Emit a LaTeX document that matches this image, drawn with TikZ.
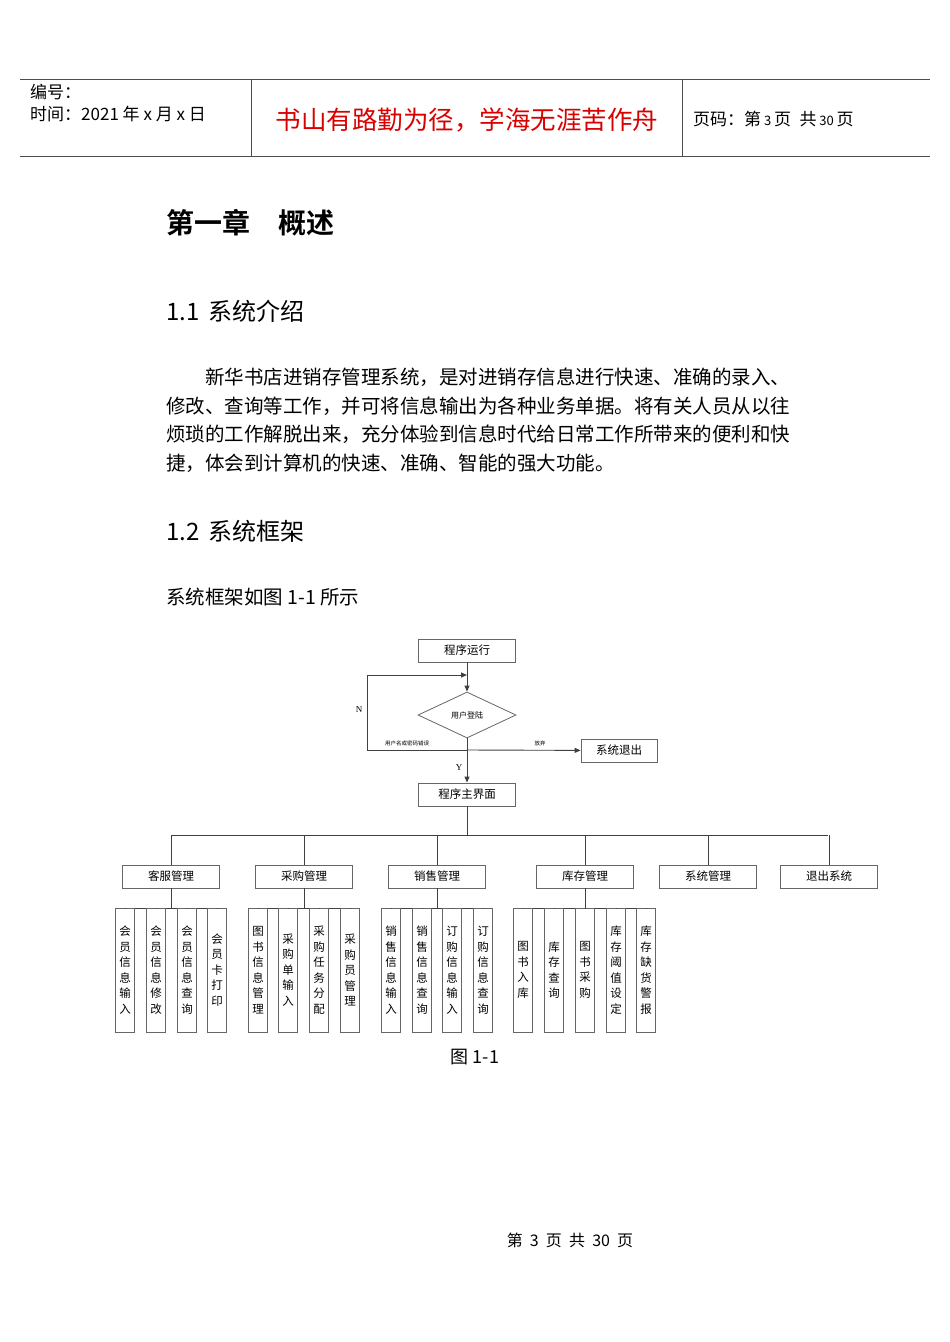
\documentclass[tikz,border=0pt]{standalone}
\usepackage{fontspec}
\setmainfont{Liberation Serif}
\newfontfamily\cjk{Noto Sans CJK SC}
\newfontfamily\cjkb{Noto Sans CJK SC}[BoldFont={Noto Sans CJK SC Bold}]
\usetikzlibrary{shapes.geometric,arrows.meta}
\begin{document}
\begin{tikzpicture}[x=1pt,y=-1pt,
 ln/.style={draw=black!75,line width=0.9pt},
 bx/.style={draw=black!60,line width=0.8pt,minimum width=97pt,minimum height=23pt,inner sep=0pt,font=\cjk\fontsize{11.5}{12}\selectfont},
 vb/.style={draw=black!60,line width=0.8pt,minimum width=19pt,minimum height=124pt,inner sep=0pt,align=center,font=\cjk\fontsize{11.5}{15.5}\selectfont},
 arr/.style={ln,-{Triangle[length=6pt,width=5pt]}},
 txt/.style={anchor=west,inner sep=0pt,font=\cjk\fontsize{19.5}{20}\selectfont}]
\useasboundingbox[fill=white] (0,0) rectangle (950,1342);
% header
\draw[black!70,line width=0.8pt] (20,79)--(930,79) (20,156)--(930,156) (251,79)--(251,156) (682,79)--(682,156);
\node[anchor=west,inner sep=0pt,font=\cjk\fontsize{17}{18}\selectfont] (h1) at (30,92) {编号：};
\node[anchor=west,inner sep=0pt,font=\cjk\fontsize{17}{18}\selectfont] (h2) at (30,114) {时间：2021 年 x 月 x 日};
\node[inner sep=0pt,text=red!85!black,font=\cjk\fontsize{25.5}{26}\selectfont] (h3) at (467,120) {书山有路勤为径，学海无涯苦作舟};
\node[anchor=west,inner sep=0pt,font=\cjk\fontsize{17}{18}\selectfont] (h4) at (693,119) {页码：第\,{\fontsize{13}{14}\selectfont 3}\,页\enspace 共\,{\fontsize{13}{14}\selectfont 30}\,页};
% headings
\node[anchor=west,inner sep=0pt,font=\cjkb\bfseries\fontsize{28}{28}\selectfont] (c1) at (166,223) {第一章\quad 概述};
\node[anchor=west,inner sep=0pt,font=\cjk\fontsize{24}{24}\selectfont] (s1) at (166,311) {1.1\, 系统介绍};
\node[txt] (p1) at (205,377) {新华书店进销存管理系统，是对进销存信息进行快速、准确的录入、};
\node[txt] (p2) at (166,406) {修改、查询等工作，并可将信息输出为各种业务单据。将有关人员从以往};
\node[txt] (p3) at (166,434) {烦琐的工作解脱出来，充分体验到信息时代给日常工作所带来的便利和快};
\node[txt] (p4) at (166,463) {捷，体会到计算机的快速、准确、智能的强大功能。};
\node[anchor=west,inner sep=0pt,font=\cjk\fontsize{24}{24}\selectfont] (s2) at (166,531) {1.2\, 系统框架};
\node[txt] (p5) at (166,597) {系统框架如图 1-1 所示};
\node[inner sep=0pt,font=\cjk\fontsize{18}{20}\selectfont] (fig) at (475,1057) {图 1-1};
\node[inner sep=0pt,font=\cjk\fontsize{16}{18}\selectfont] (ft) at (570,1240) {第\ \ 3\ \ 页\ \ 共\ \ 30\ \ 页};
% flowchart
\node[bx] (run) at (467,650.5) {程序运行};
\node[diamond,draw=black!60,line width=0.8pt,minimum width=98pt,minimum height=46pt,inner sep=0pt,aspect=2.1,font=\cjk\fontsize{8}{9}\selectfont] (login) at (467,715) {用户登陆};
\node[bx,minimum width=76pt] (exit) at (619,750.5) {系统退出};
\node[bx] (main) at (467,794.5) {程序主界面};
\coordinate (j1) at (467,675);
\coordinate (j2) at (467,750);
\draw[arr] (run) -- (login);
\draw[arr] (j2) -- (367,750) -- (367,675) -- (j1);
\draw[arr] (j2) -- (exit);
\draw[arr] (login) -- (main);
\node[font=\fontsize{9}{10}\selectfont] (N) at (359,710) {N};
\node[font=\fontsize{9}{10}\selectfont] (Y) at (459,768) {Y};
\node[font=\cjk\fontsize{5.5}{6}\selectfont] (err) at (407,743) {用户名或密码错误};
\node[font=\cjk\fontsize{5.5}{6}\selectfont] (gu) at (540,743) {放弃};
% tree
\draw[ln] (main.south) -- (467,835);
\draw[ln] (172,835) -- (828,835);
\foreach \n/\x/\t in {g1/171/客服管理,g2/304/采购管理,g3/437/销售管理,g4/585/库存管理,g5/708/系统管理,g6/829/退出系统}{
  \node[bx] (\n) at (\x,876.5) {\t};
  \draw[ln] (\x,835) -- (\n.north);
}
\foreach \g/\a/\b in {g1/125/217,g2/258/350,g3/391/483,g4/523/646}{
  \draw[ln] (\g.south) -- (\g.south |- 0,908);
  \draw[ln] (\a,908) -- (\b,908);
}
\foreach \n/\x/\t in {
 a1/125/{会\\员\\信\\息\\输\\入},a2/156/{会\\员\\信\\息\\修\\改},a3/187/{会\\员\\信\\息\\查\\询},a4/217/{会\\员\\卡\\打\\印},
 b1/258/{图\\书\\信\\息\\管\\理},b2/288/{采\\购\\单\\输\\入},b3/319/{采\\购\\任\\务\\分\\配},b4/350/{采\\购\\员\\管\\理},
 c1/391/{销\\售\\信\\息\\输\\入},c2/422/{销\\售\\信\\息\\查\\询},c3/452/{订\\购\\信\\息\\输\\入},c4/483/{订\\购\\信\\息\\查\\询},
 d1/523/{图\\书\\入\\库},d2/554/{库\\存\\查\\询},d3/585/{图\\书\\采\\购},d4/616/{库\\存\\阈\\值\\设\\定},d5/646/{库\\存\\缺\\货\\警\\报}}{
  \node[vb] (\n) at (\x,970) {\t};
  \draw[ln] (\x,908) -- (\n.north);
}
\end{tikzpicture}
\end{document}
